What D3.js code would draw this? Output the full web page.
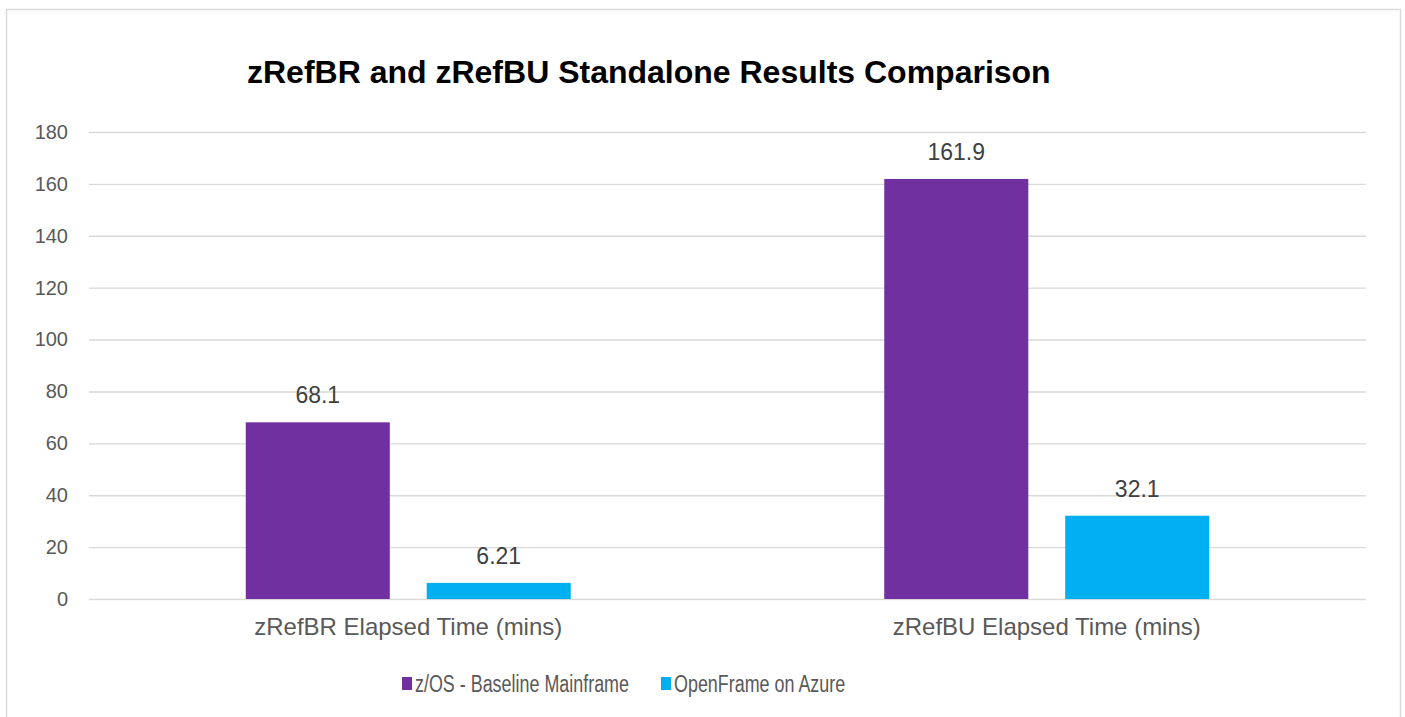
<!doctype html>
<html lang="en">
<head>
<meta charset="utf-8">
<title>zRefBR and zRefBU Standalone Results Comparison</title>
<script src="https://d3js.org/d3.v7.min.js"></script>
<style>
  html, body { margin: 0; padding: 0; background: #fff; }
  svg { display: block; font-family: "Liberation Sans", Arial, sans-serif; }
</style>
</head>
<body>
<script>
var categories = ["zRefBR Elapsed Time (mins)", "zRefBU Elapsed Time (mins)"];
var seriesNames = ["z/OS - Baseline Mainframe", "OpenFrame on Azure"];
var mainframe = [68.1, 161.9];
var azure = [6.21, 32.1];
var valueLabels = [["68.1", "161.9"], ["6.21", "32.1"]];
var yTicks = [0, 20, 40, 60, 80, 100, 120, 140, 160, 180];
var colors = ["#7030A0", "#00B0F0"];

var width = 1405, height = 717;
var svg = d3.select("body").append("svg")
    .attr("width", width)
    .attr("height", height);

// chart border
svg.append("rect")
    .attr("x", 6.5).attr("y", 9.5)
    .attr("width", 1394).attr("height", 720)
    .attr("fill", "none")
    .attr("stroke", "#d9d9d9")
    .attr("stroke-width", 1.5);

svg.append("text")
    .attr("x", 247).attr("y", 83)
    .attr("font-size", 32)
    .attr("font-weight", "bold")
    .attr("fill", "#000")
    .text("zRefBR and zRefBU Standalone Results Comparison");

var y = d3.scaleLinear().domain([0, 180]).range([599, 132]);
var x0 = d3.scaleBand().domain(categories).range([89, 1366])
    .paddingInner(0.491).paddingOuter(0.2455);
var x1 = d3.scaleBand().domain(seriesNames).range([0, x0.bandwidth()])
    .paddingInner(0.204);

// gridlines + y labels
var yAxis = svg.append("g")
    .attr("transform", "translate(89,0)")
    .call(d3.axisLeft(y).tickValues(yTicks).tickSize(-1277).tickPadding(21));
yAxis.select(".domain").remove();
yAxis.selectAll(".tick line").attr("stroke", "#d9d9d9").attr("stroke-width", 1.4);
yAxis.selectAll(".tick text")
    .attr("font-size", 20)
    .attr("fill", "#595959")
    .attr("font-family", "'Liberation Sans', Arial, sans-serif");

var series = [mainframe, azure];
series.forEach(function(vals, si) {
    var g = svg.append("g");
    g.selectAll("rect")
        .data(vals)
        .enter().append("rect")
        .attr("x", function(d, i) { return x0(categories[i]) + x1(seriesNames[si]); })
        .attr("y", function(d) { return y(d); })
        .attr("width", x1.bandwidth())
        .attr("height", function(d) { return y(0) - y(d); })
        .attr("fill", colors[si]);
    g.selectAll("text")
        .data(vals)
        .enter().append("text")
        .attr("x", function(d, i) { return x0(categories[i]) + x1(seriesNames[si]) + x1.bandwidth() / 2; })
        .attr("y", function(d) { return y(d) - 19; })
        .attr("text-anchor", "middle")
        .attr("font-size", 23)
        .attr("fill", "#404040")
        .text(function(d, i) { return valueLabels[si][i]; });
});

// category labels
svg.append("g").selectAll("text")
    .data(categories)
    .enter().append("text")
    .attr("x", function(d) { return x0(d) + x0.bandwidth() / 2; })
    .attr("y", 635)
    .attr("text-anchor", "middle")
    .attr("font-size", 24)
    .attr("fill", "#595959")
    .text(function(d) { return d; });

// legend
var legendX = [402, 661];
var legend = svg.append("g").selectAll("g")
    .data(seriesNames)
    .enter().append("g")
    .attr("transform", function(d, i) { return "translate(" + legendX[i] + ",677)"; });
legend.append("rect")
    .attr("width", 10).attr("height", 13)
    .attr("fill", function(d, i) { return colors[i]; });
legend.append("text")
    .attr("x", 13).attr("y", 14.5)
    .attr("font-size", 23.5)
    .attr("fill", "#595959")
    .text(function(d) { return d; })
    .each(function() {
        var len = this.getComputedTextLength();
        d3.select(this).attr("textLength", len * 0.762).attr("lengthAdjust", "spacingAndGlyphs");
    });
</script>
</body>
</html>
